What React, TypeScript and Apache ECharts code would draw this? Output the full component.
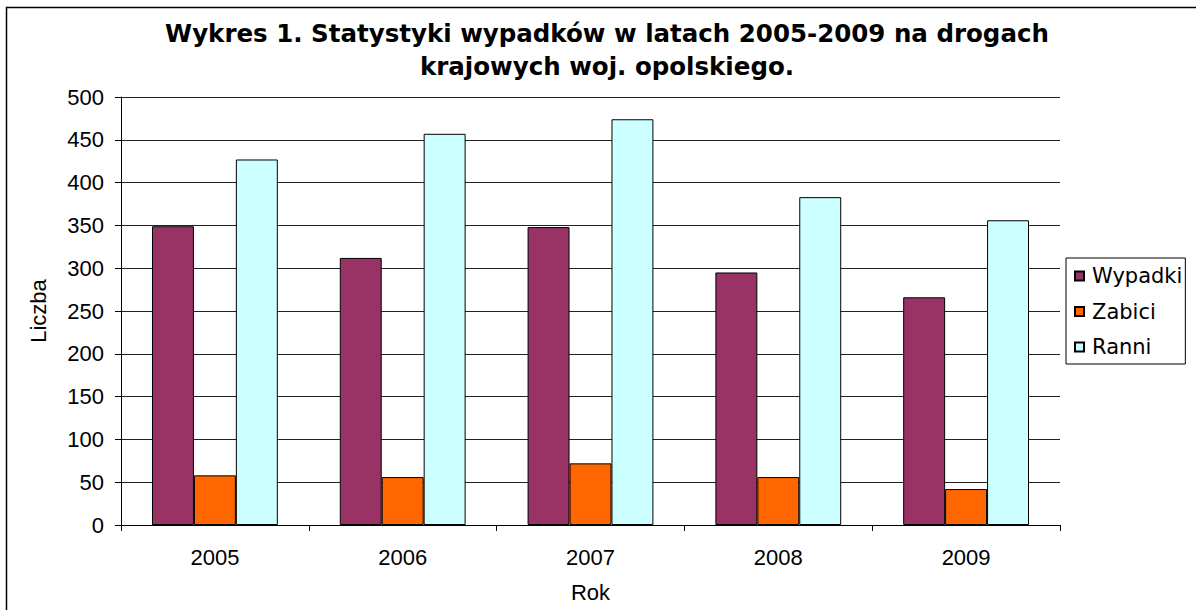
import React, { useEffect, useRef } from "react";
import * as echarts from "echarts";

// Lata i wartości serii
const years = ["2005", "2006", "2007", "2008", "2009"];
const wypadki = [349, 312, 348, 295, 266];
const zabici = [58, 56, 72, 56, 42];
const ranni = [427, 457, 474, 383, 356];

const titleText =
  "Wykres 1. Statystyki wypadków w latach 2005-2009 na drogach\nkrajowych woj. opolskiego.";

const axisFont = "'Liberation Sans', Arial, sans-serif";
const verdanaLike = "'DejaVu Sans', Verdana, sans-serif";

export default function App() {
  const ref = useRef<HTMLDivElement>(null);

  useEffect(() => {
    if (!ref.current) return;
    const chart = echarts.init(ref.current, null, { renderer: "svg" });
    const barStyle = (color: string) => ({
      color,
      borderColor: "#000",
      borderWidth: 1,
    });
    chart.setOption({
      animation: false,
      backgroundColor: "#fff",
      title: {
        text: titleText,
        left: 602,
        textAlign: "center",
        top: 12,
        textStyle: {
          fontFamily: verdanaLike,
          fontWeight: "bold",
          fontSize: 24.5,
          lineHeight: 33,
          color: "#000",
        },
      },
      legend: {
        orient: "vertical",
        left: 1066,
        top: 258,
        padding: [7, 3, 6, 8],
        itemGap: 13.5,
        itemWidth: 9,
        itemHeight: 9,
        borderColor: "#000",
        borderWidth: 1,
        icon: "rect",
        textStyle: {
          fontFamily: verdanaLike,
          fontSize: 21,
          lineHeight: 22,
          color: "#000",
          padding: [0, 0, 0, 3],
        },
        data: ["Wypadki", "Zabici", "Ranni"],
      },
      grid: {
        left: 121,
        right: 136,
        top: 97,
        bottom: 85,
        containLabel: false,
      },
      xAxis: {
        type: "category",
        data: years,
        name: "Rok",
        nameLocation: "middle",
        nameGap: 56,
        nameTextStyle: { fontFamily: axisFont, fontSize: 22, color: "#000" },
        axisLine: { lineStyle: { color: "#000", width: 1 } },
        axisTick: { show: true, length: 6, lineStyle: { color: "#000" } },
        axisLabel: {
          fontFamily: axisFont,
          fontSize: 22,
          color: "#000",
          margin: 21,
        },
      },
      yAxis: {
        type: "value",
        min: 0,
        max: 500,
        interval: 50,
        name: "Liczba",
        nameLocation: "middle",
        nameGap: 72,
        nameTextStyle: { fontFamily: axisFont, fontSize: 22, color: "#000" },
        axisLine: { show: true, lineStyle: { color: "#000", width: 1 } },
        axisTick: { show: true, length: 6, lineStyle: { color: "#000" } },
        axisLabel: {
          fontFamily: axisFont,
          fontSize: 22,
          color: "#000",
          margin: 17,
        },
        splitLine: { lineStyle: { color: "#222", width: 1 } },
      },
      series: [
        {
          name: "Wypadki",
          type: "bar",
          data: wypadki,
          itemStyle: barStyle("#993366"),
          barGap: "0%",
          barCategoryGap: "33%",
        },
        {
          name: "Zabici",
          type: "bar",
          data: zabici,
          itemStyle: barStyle("#FF6600"),
          barGap: "0%",
          barCategoryGap: "33%",
        },
        {
          name: "Ranni",
          type: "bar",
          data: ranni,
          itemStyle: barStyle("#CCFFFF"),
          barGap: "0%",
          barCategoryGap: "33%",
        },
      ],
      graphic: [
        {
          type: "rect",
          shape: { x: 6.5, y: 7.5, width: 1300, height: 700 },
          style: { fill: "none", stroke: "#000", lineWidth: 1.5 },
          silent: true,
        },
      ],
    });
    return () => chart.dispose();
  }, []);

  return (
    <div
      ref={ref}
      style={{
        position: "fixed",
        left: 0,
        top: 0,
        width: 1196,
        height: 610,
        background: "#fff",
      }}
    />
  );
}
